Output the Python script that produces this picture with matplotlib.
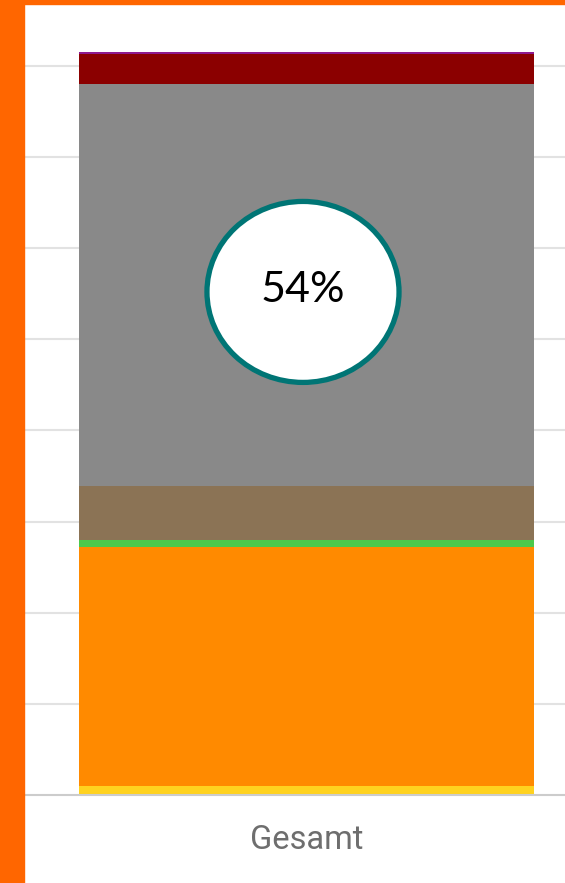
import matplotlib
matplotlib.use("Agg")
import matplotlib.pyplot as plt
from matplotlib.patches import Rectangle, Ellipse

# stacked segments, bottom to top
segments = ["Gelb", "Orange", "Grün", "Braun", "Grau", "Dunkelrot", "Lila"]
values = [10, 262, 8, 59, 441, 33, 2]
colors = ["#ffd21f", "#ff8a00", "#4cc94c", "#8b7355", "#898989", "#8b0000", "#8e1a8e"]
categories = ["Gesamt"]
highlight_label = "54%"

W, H = 565, 883
fig = plt.figure(figsize=(W / 100, H / 100), dpi=100)
fig.patch.set_facecolor("white")

# orange frame on left and top
fig.patches.append(Rectangle((0, 0), 24 / W, 1, transform=fig.transFigure,
                             color="#ff6600", zorder=0))
fig.patches.append(Rectangle((0, 1 - 4 / H), 1, 4 / H, transform=fig.transFigure,
                             color="#ff6600", zorder=0))

ax = fig.add_axes([24 / W, 88 / H, (W - 24) / W, (795 - 4) / H])
ax.set_facecolor("white")

bottom = 0
for v, c in zip(values, colors):
    ax.bar(0, v, width=1.0, bottom=bottom, color=c, linewidth=0, zorder=2)
    bottom += v

ax.set_xlim(-0.621, 0.568)
ax.set_ylim(0, 868)
ax.set_yticks(range(100, 801, 100))
ax.yaxis.grid(True, color="#e2e2e2", linewidth=1.5, zorder=0)
ax.tick_params(axis="y", left=False, labelleft=False)
ax.set_xticks([0])
ax.set_xticklabels(categories, fontfamily="Roboto", fontsize=23.5, color="#6e6e6e")
ax.tick_params(axis="x", length=0, pad=21)
for s in ["top", "right", "left"]:
    ax.spines[s].set_visible(False)
ax.spines["bottom"].set_color("#cccccc")
ax.spines["bottom"].set_linewidth(1.5)

ax.add_patch(Ellipse((0.5157, 0.636), 0.355, 0.2288, transform=ax.transAxes,
                     facecolor="white", edgecolor="#007575", linewidth=3.8, zorder=5))
ax.text(0.5157, 0.638, highlight_label, transform=ax.transAxes, ha="center", va="center",
        fontfamily="Lato", fontsize=31, color="black", zorder=6)

fig.savefig("out.png", dpi=100)
